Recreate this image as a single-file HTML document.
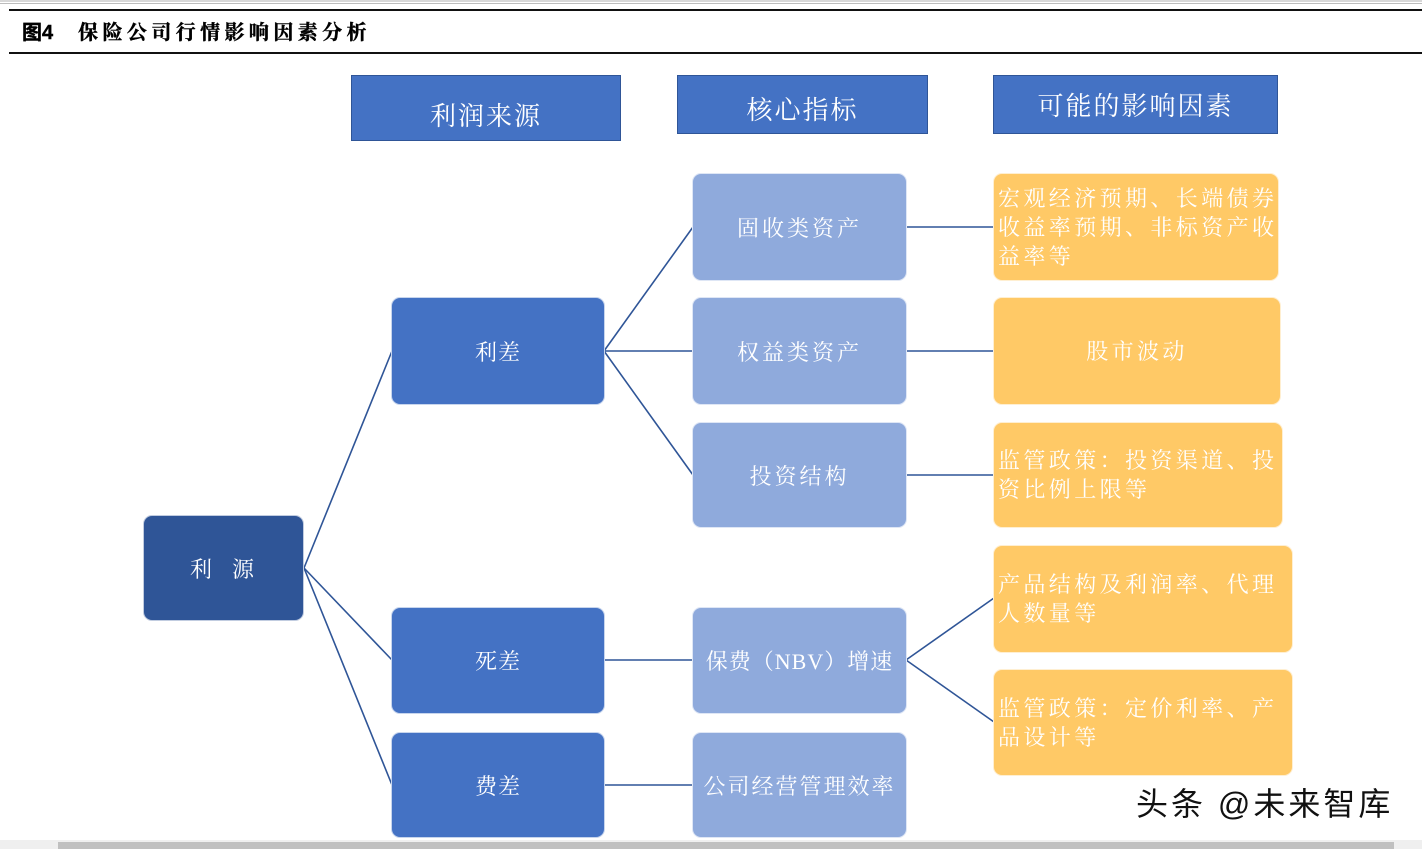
<!DOCTYPE html>
<html><head><meta charset="utf-8">
<style>
html,body{margin:0;padding:0;background:#fff;}
body{width:1422px;height:849px;position:relative;overflow:hidden;font-family:"Liberation Serif","Noto Serif CJK SC",serif;}
.b{position:absolute;box-sizing:border-box;border-radius:9px;color:#fff;display:flex;align-items:center;justify-content:center;white-space:nowrap;font-size:22px;letter-spacing:3px;border:1px solid rgba(255,255,255,0.7);}
.l1{background:#2F5597;}
.l2{background:#4472C4;}
.l3{background:#8FAADC;}
.l4{background:#FFC966;justify-content:flex-start;padding-left:4px;line-height:29px;letter-spacing:3.4px;}
.h{position:absolute;box-sizing:border-box;background:#4472C4;border:1px solid #2F5597;color:#fff;display:flex;align-items:center;justify-content:center;font-size:26px;letter-spacing:2px;white-space:nowrap;}
</style></head><body>
<div style="position:absolute;left:0;top:0;width:1422px;height:2px;background:#d8d8d8;"></div>
<div style="position:absolute;left:0;top:3px;width:1422px;height:1px;background:#bdbdbd;"></div>
<div style="position:absolute;left:9px;top:9px;width:1413px;height:2px;background:#111;"></div>
<div style="position:absolute;left:9px;top:52px;width:1413px;height:2px;background:#111;"></div>
<div style="position:absolute;left:22px;top:19px;font-family:'Liberation Sans','Noto Sans CJK SC',sans-serif;font-weight:bold;font-size:20px;color:#000;white-space:nowrap;line-height:28px;-webkit-text-stroke:0.4px #000;">图4<span style="display:inline-block;width:25px;"></span><span style="letter-spacing:4.4px;font-family:'Liberation Serif','Noto Serif CJK SC',serif;">保险公司行情影响因素分析</span></div>

<div class="h" style="left:351px;top:75px;width:270px;height:66px;padding-top:12px;">利润来源</div>
<div class="h" style="left:677px;top:75px;width:251px;height:59px;padding-top:8px;">核心指标</div>
<div class="h" style="left:993px;top:75px;width:285px;height:59px;">可能的影响因素</div>

<svg style="position:absolute;left:0;top:0;" width="1422" height="849">
<g stroke="#2F5597" stroke-width="1.6" fill="none">
<line x1="304" y1="568" x2="392" y2="351"/>
<line x1="304" y1="568" x2="392" y2="660"/>
<line x1="304" y1="568" x2="392" y2="785"/>
<line x1="604" y1="351" x2="693" y2="227"/>
<line x1="604" y1="351" x2="693" y2="351"/>
<line x1="604" y1="351" x2="693" y2="475"/>
<line x1="604" y1="660" x2="693" y2="660"/>
<line x1="604" y1="785" x2="693" y2="785"/>
<line x1="906" y1="227" x2="994" y2="227"/>
<line x1="906" y1="351" x2="994" y2="351"/>
<line x1="906" y1="475" x2="994" y2="475"/>
<line x1="906" y1="660" x2="994" y2="598"/>
<line x1="906" y1="660" x2="994" y2="722"/>
</g>
</svg>

<div class="b l1" style="left:143px;top:515px;width:161px;height:106px;">利&nbsp;&nbsp;源</div>

<div class="b l2" style="left:391px;top:297px;width:214px;height:108px;letter-spacing:1px;">利差</div>
<div class="b l2" style="left:391px;top:607px;width:214px;height:107px;letter-spacing:1px;">死差</div>
<div class="b l2" style="left:391px;top:732px;width:214px;height:106px;letter-spacing:1px;">费差</div>

<div class="b l3" style="left:692px;top:173px;width:215px;height:108px;">固收类资产</div>
<div class="b l3" style="left:692px;top:297px;width:215px;height:108px;">权益类资产</div>
<div class="b l3" style="left:692px;top:422px;width:215px;height:106px;">投资结构</div>
<div class="b l3" style="left:692px;top:607px;width:215px;height:107px;letter-spacing:1px;">保费（NBV）增速</div>
<div class="b l3" style="left:692px;top:732px;width:215px;height:106px;letter-spacing:2px;">公司经营管理效率</div>

<div class="b l4" style="left:993px;top:173px;width:286px;height:108px;">宏观经济预期、长端债券<br>收益率预期、非标资产收<br>益率等</div>
<div class="b l4" style="left:993px;top:297px;width:288px;height:108px;justify-content:center;padding-left:0;">股市波动</div>
<div class="b l4" style="left:993px;top:422px;width:290px;height:106px;">监管政策：投资渠道、投<br>资比例上限等</div>
<div class="b l4" style="left:993px;top:545px;width:300px;height:108px;">产品结构及利润率、代理<br>人数量等</div>
<div class="b l4" style="left:993px;top:669px;width:300px;height:107px;">监管政策：定价利率、产<br>品设计等</div>

<div style="position:absolute;left:1136px;top:783px;font-family:'Liberation Sans','Noto Sans CJK SC',sans-serif;font-size:32px;letter-spacing:3px;color:#111;white-space:nowrap;line-height:42px;text-shadow:0 0 2px #fff,0 0 2px #fff;">头条 @未来智库</div>

<div style="position:absolute;left:0;top:840px;width:1422px;height:9px;background:#efefef;"></div>
<div style="position:absolute;left:58px;top:842px;width:1336px;height:7px;background:#c0c0c0;"></div>
</body></html>
